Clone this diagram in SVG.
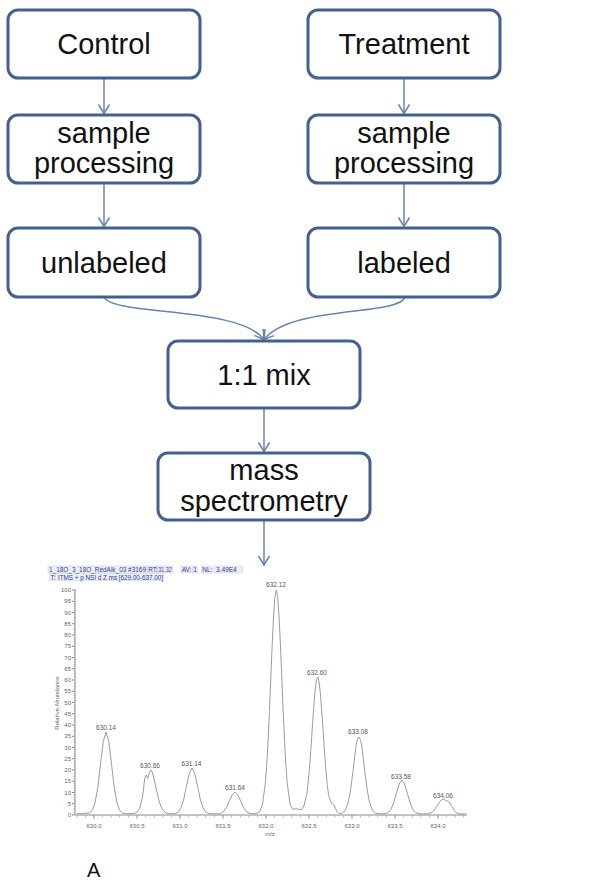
<svg xmlns="http://www.w3.org/2000/svg" width="600" height="888" viewBox="0 0 600 888">
<style>
.box{fill:#fff;stroke:#42618e;stroke-width:3}
.lbl{font-family:"Liberation Sans",Arial,sans-serif;font-size:29px;fill:#111;text-anchor:middle}
.con{fill:none;stroke:#6884ab;stroke-width:1.5}
.ax{fill:none;stroke:#8a8a8a;stroke-width:1}
.sp{fill:none;stroke:#9c9c9c;stroke-width:1;stroke-linejoin:round}
.tk{font-family:"Liberation Sans",Arial,sans-serif;font-size:6px;fill:#666}
.pk{font-family:"Liberation Sans",Arial,sans-serif;font-size:6.5px;fill:#555;text-anchor:middle}
.hd{font-family:"Liberation Sans",Arial,sans-serif;font-size:6.5px;fill:#2b3b9c}
.hb{fill:#eeeef8;stroke:#c8c8e0;stroke-width:0.5}
</style>
<defs>
<marker id="ah" viewBox="-11 -7 13 14" refX="0" refY="0" markerWidth="13" markerHeight="14" orient="auto" markerUnits="userSpaceOnUse">
<path d="M-9,-5.5 L0,0 L-9,5.5" fill="none" stroke="#6884ab" stroke-width="1.5"/>
</marker>
</defs>

<g id="connectors">
<path class="con" d="M104,78 V113.5" marker-end="url(#ah)"/>
<path class="con" d="M104,183 V226.5" marker-end="url(#ah)"/>
<path class="con" d="M404,78 V113.5" marker-end="url(#ah)"/>
<path class="con" d="M404,183 V226.5" marker-end="url(#ah)"/>
<path class="con" d="M104,297 C112,316 240,306 264,339.5" marker-end="url(#ah)"/>
<path class="con" d="M405,297 C400,316 290,305 264,339.5" marker-end="url(#ah)"/>
<path class="con" d="M264,408 V451.5" marker-end="url(#ah)"/>
<path class="con" d="M264,520 V565" marker-end="url(#ah)"/>
</g>

<g id="control">
<rect class="box" x="8" y="10" width="192" height="68" rx="10"/>
<text class="lbl" x="104" y="54">Control</text>
</g>
<g id="treatment">
<rect class="box" x="308" y="10" width="192" height="68" rx="10"/>
<text class="lbl" x="404" y="54">Treatment</text>
</g>
<g id="processing-left">
<rect class="box" x="8" y="115" width="192" height="68" rx="10"/>
<text class="lbl" x="104" y="143">sample</text>
<text class="lbl" x="104" y="173">processing</text>
</g>
<g id="processing-right">
<rect class="box" x="308" y="115" width="192" height="68" rx="10"/>
<text class="lbl" x="404" y="143">sample</text>
<text class="lbl" x="404" y="173">processing</text>
</g>
<g id="unlabeled">
<rect class="box" x="8" y="228" width="192" height="69" rx="10"/>
<text class="lbl" x="104" y="273">unlabeled</text>
</g>
<g id="labeled">
<rect class="box" x="308" y="228" width="192" height="69" rx="10"/>
<text class="lbl" x="404" y="273">labeled</text>
</g>
<g id="mix">
<rect class="box" x="168" y="341" width="192" height="67" rx="10"/>
<text class="lbl" x="264" y="385">1:1 mix</text>
</g>
<g id="ms">
<rect class="box" x="158" y="453" width="212" height="67" rx="10"/>
<text class="lbl" x="264" y="480">mass</text>
<text class="lbl" x="264" y="511">spectrometry</text>
</g>

<g id="spectrum">
<rect class="hb" x="48" y="566" width="99" height="7"/>
<rect class="hb" x="147.5" y="566" width="9" height="7"/>
<rect class="hb" x="157.5" y="566" width="15" height="7"/>
<rect class="hb" x="181" y="566" width="10" height="7"/>
<rect class="hb" x="192.5" y="566" width="5" height="7"/>
<rect class="hb" x="201.5" y="566" width="11" height="7"/>
<rect class="hb" x="214.5" y="566" width="28" height="7"/>
<rect class="hb" x="49.5" y="573.5" width="6" height="7"/>
<rect class="hb" x="57" y="573.5" width="107" height="7"/>
<text class="hd" x="49" y="572" textLength="97" lengthAdjust="spacingAndGlyphs">1_18O_3_18O_RedAlk_03 #3169</text>
<text class="hd" x="148.3" y="572">RT:</text>
<text class="hd" x="158.3" y="572" textLength="13.4" lengthAdjust="spacingAndGlyphs">31.32</text>
<text class="hd" x="181.7" y="572">AV:</text>
<text class="hd" x="193.3" y="572">1</text>
<text class="hd" x="202.2" y="572">NL:</text>
<text class="hd" x="216" y="572">3.49E4</text>
<text class="hd" x="50.5" y="579.5">T:</text>
<text class="hd" x="58" y="579.5" textLength="105" lengthAdjust="spacingAndGlyphs">ITMS + p NSI d Z ms [629.00-637.00]</text>

<path class="ax" d="M75,589 V815 H467"/>
<line x1="74.25" y1="815.3" x2="74.25" y2="589" stroke="#8a8a8a" stroke-width="1.5" stroke-dasharray="0.6 1.65"/>
<line x1="73" y1="815.4" x2="73" y2="589" stroke="#8a8a8a" stroke-width="2" stroke-dasharray="0.8 10.45"/>
<line x1="76.5" y1="816.5" x2="467" y2="816.5" stroke="#8a8a8a" stroke-width="2" stroke-dasharray="0.6 8"/>
<line x1="93.65" y1="817" x2="467" y2="817" stroke="#8a8a8a" stroke-width="4" stroke-dasharray="0.7 42.3"/>

<g class="tk" text-anchor="end">
<text x="71" y="817">0</text><text x="71" y="805.75">5</text><text x="71" y="794.5">10</text>
<text x="71" y="783.25">15</text><text x="71" y="772">20</text><text x="71" y="760.75">25</text>
<text x="71" y="749.5">30</text><text x="71" y="738.25">35</text><text x="71" y="727">40</text>
<text x="71" y="715.75">45</text><text x="71" y="704.5">50</text><text x="71" y="693.25">55</text>
<text x="71" y="682">60</text><text x="71" y="670.75">65</text><text x="71" y="659.5">70</text>
<text x="71" y="648.25">75</text><text x="71" y="637">80</text><text x="71" y="625.75">85</text>
<text x="71" y="614.5">90</text><text x="71" y="603.25">95</text><text x="71" y="592">100</text>
</g>
<g class="tk" text-anchor="middle">
<text x="94" y="828">630.0</text><text x="137" y="828">630.5</text><text x="180" y="828">631.0</text>
<text x="223" y="828">631.5</text><text x="266" y="828">632.0</text><text x="309" y="828">632.5</text>
<text x="352" y="828">633.0</text><text x="395" y="828">633.5</text><text x="438" y="828">634.0</text>
<text x="270" y="836">m/z</text>
</g>
<text class="tk" text-anchor="middle" transform="translate(59,703) rotate(-90)">Relative Abundance</text>

<path class="sp" d="M77,813.6 L82,813.8 L86,813.2 L89.5,813.1 L92.25,810.4 L95,802.9 L97.75,787.4 L100.5,764.3 L103.25,741.6 L106,732 L108.75,741.6 L111.5,764.3 L114.25,787.4 L117,802.9 L119.75,810.4 L122.5,813.1 L126,813.7 L130,813.4 L134.3,813.5 L137.05,812.1 L139.8,808 L142.55,797 L144.8,778 L146.3,775 L147.8,778.5 L149.3,773 L150.8,770 L152.3,772 L153.55,777 L156.3,789 L159.05,801 L161.8,808.5 L164.55,812 L167.3,813.5 L171,813.8 L175.5,813.5 L178.25,812 L181,807.8 L183.75,799.1 L186.5,786.1 L189.25,773.4 L192,768 L194.75,773.4 L197.5,786.1 L200.25,799.1 L203,807.8 L205.75,812 L208.5,813.5 L213,813.8 L218.5,813.8 L221.25,813 L224,811 L226.75,806.9 L229.5,800.7 L232.25,794.6 L235,792 L237.75,794.6 L240.5,800.7 L243.25,806.9 L246,811 L248.75,813 L251.5,813.8 L256,813.6 L259.8,811.5 L262.55,804.2 L265.3,783.7 L266.675,765.5 L268.05,741.3 L269.425,711.5 L270.8,678.1 L272.175,644.9 L273.55,616.3 L274.925,596.9 L276.3,590 L277.675,596.9 L279.05,616.3 L280.425,644.9 L281.8,678.1 L283.175,711.5 L284.55,741.3 L285.925,765.5 L287.3,783.7 L290.05,804.2 L292.8,809.5 L296,808.5 L299,809.5 L301.1,810 L303.85,806 L306.6,795.5 L307.975,784.4 L309.35,769.5 L310.725,751.3 L312.1,730.9 L313.475,710.6 L314.85,693.1 L316.225,681.2 L317.6,677 L318.975,681.2 L320.35,693.1 L321.725,710.6 L323.1,730.9 L324.475,751.3 L325.85,769.5 L327.225,784.4 L328.6,795.5 L331.35,803 L334.1,805 L336.85,811.5 L339.5,813.6 L342.4,813.1 L345.15,810.6 L347.9,803.6 L349.275,797.3 L350.65,789 L352.025,778.7 L353.4,768.3 L354.775,755.9 L356.15,745 L357.525,739.4 L358.9,737 L360.275,739.4 L361.65,745 L363.025,755.9 L364.4,768.3 L365.775,778.7 L367.15,789 L368.525,797.3 L369.9,803.6 L372.65,810.6 L375.4,813.1 L379,813.6 L382,813.9 L385.4,813.6 L388.15,812.5 L390.9,809.4 L393.65,803 L396.4,793.4 L399.15,784 L401.9,780 L404.65,784 L407.4,793.4 L410.15,803 L412.9,809.4 L415.65,812.5 L418.4,813.6 L422,813.9 L426.7,813.8 L429.45,813.3 L432.2,812 L434.95,809.1 L437.7,804.9 L440.45,800.8 L443.2,799 L445.95,800.5 L448.7,801.5 L451.45,805.5 L454.2,810.5 L456.95,813.3 L459.7,813.8 L466,814"/>

<text class="pk" x="106" y="730">630.14</text>
<text class="pk" x="150" y="767.5">630.66</text>
<text class="pk" x="191.5" y="766">631.14</text>
<text class="pk" x="235" y="790">631.64</text>
<text class="pk" x="276" y="586.5">632.12</text>
<text class="pk" x="317" y="675">632.60</text>
<text class="pk" x="358" y="734">633.08</text>
<text class="pk" x="401" y="778.5">633.58</text>
<text class="pk" x="443" y="798">634.06</text>
</g>

<g id="panel-label">
<text x="87" y="877" font-family="'Liberation Sans',Arial,sans-serif" font-size="20" fill="#111">A</text>
</g>
</svg>
